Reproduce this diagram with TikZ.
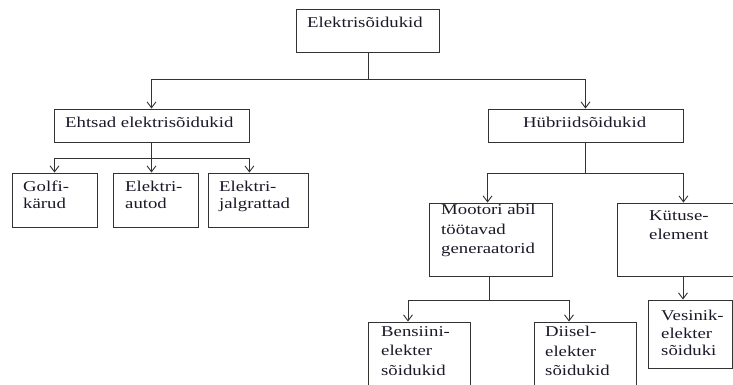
\documentclass[tikz,border=0pt]{standalone}
\usepackage{fontspec}
\setmainfont{Liberation Serif}[FakeStretch=1.25]
\usetikzlibrary{arrows.meta}
\definecolor{ln}{gray}{0.2}
\definecolor{tx}{RGB}{25,25,40}
\begin{document}
\begin{tikzpicture}[x=1pt,y=-1pt,
  box/.style={draw=ln,line width=0.9pt,rectangle,inner sep=0pt},
  txt/.style={anchor=north west,inner sep=0pt,align=left,text=tx,
     font=\fontsize{15}{19.5}\selectfont,execute at begin node=\rule{0pt}{12pt}},
  tight/.style={font=\fontsize{15}{17}\selectfont},
  conn/.style={draw=ln,line width=0.9pt},
  arr/.style={conn,-{Straight Barb[length=6pt,width=9pt,line width=0.9pt]}}]
\useasboundingbox (0,0) rectangle (733,385);
% boxes
\node[box,minimum width=143pt,minimum height=43pt] (top) at (368,30.5) {};
\node[box,minimum width=195pt,minimum height=33pt] (eht) at (151.5,125.5) {};
\node[box,minimum width=195pt,minimum height=33pt] (hyb) at (585.5,125.5) {};
\node[box,minimum width=85pt,minimum height=54pt] (golf) at (54.5,200) {};
\node[box,minimum width=85pt,minimum height=54pt] (auto) at (155.5,200) {};
\node[box,minimum width=100pt,minimum height=54pt] (jalg) at (258,200) {};
\node[box,minimum width=123pt,minimum height=73pt] (moot) at (490.5,239.5) {};
\node[box,minimum width=132pt,minimum height=73pt] (kut) at (683,239.5) {};
\node[box,minimum width=102pt,minimum height=72pt] (bens) at (419,358) {};
\node[box,minimum width=102pt,minimum height=72pt] (diis) at (585,358) {};
\node[box,minimum width=84pt,minimum height=68pt] (ves) at (690,334) {};
% texts
\node[txt] (ttop) at (307,15) {Elektrisõidukid};
\node[txt] (teht) at (65,115) {Ehtsad elektrisõidukid};
\node[txt] (thyb) at (523,115) {Hübriidsõidukid};
\node[txt,tight] (tgolf) at (23,181) {Golfi-\\kärud};
\node[txt,tight] (tauto) at (125,181) {Elektri-\\autod};
\node[txt,tight] (tjalg) at (219,181) {Elektri-\\jalgrattad};
\node[txt] (tmoot) at (441,204) {Mootori abil\\töötavad\\generaatorid};
\node[txt] (tkut) at (649,210) {Kütuse-\\element};
\node[txt] (tbens) at (381,326) {Bensiini-\\elekter\\sõidukid};
\node[txt] (tdiis) at (545,326) {Diisel-\\elekter\\sõidukid};
\node[txt,font=\fontsize{15}{17.5}\selectfont] (tves) at (661,310) {Vesinik-\\elekter\\sõiduki};
% connectors
\coordinate (j0) at (368,79);
\draw[conn] (top.south) -- (j0);
\draw[arr] (j0) -| (eht.north);
\draw[arr] (j0) -| (hyb.north);
\coordinate (j1) at (151.5,158);
\draw[conn] (eht.south) -- (j1);
\draw[arr] (j1) -| (golf.north);
\draw[arr] (j1) -- (j1 |- auto.north);
\draw[arr] (j1) -| (eht.east |- jalg.north);
\coordinate (j2) at (585.5,173);
\draw[conn] (hyb.south) -- (j2);
\draw[arr] (j2) -| (hyb.west |- moot.north);
\draw[arr] (j2) -| (hyb.east |- kut.north);
\coordinate (j3) at (489,300);
\draw[conn] (moot.south -| j3) -- (j3);
\draw[arr] (j3) -| ([xshift=-11pt]bens.north);
\draw[arr] (j3) -| ([xshift=-16pt]diis.north);
\draw[arr] (kut.south) -- (kut.south |- ves.north);
\end{tikzpicture}
\end{document}
